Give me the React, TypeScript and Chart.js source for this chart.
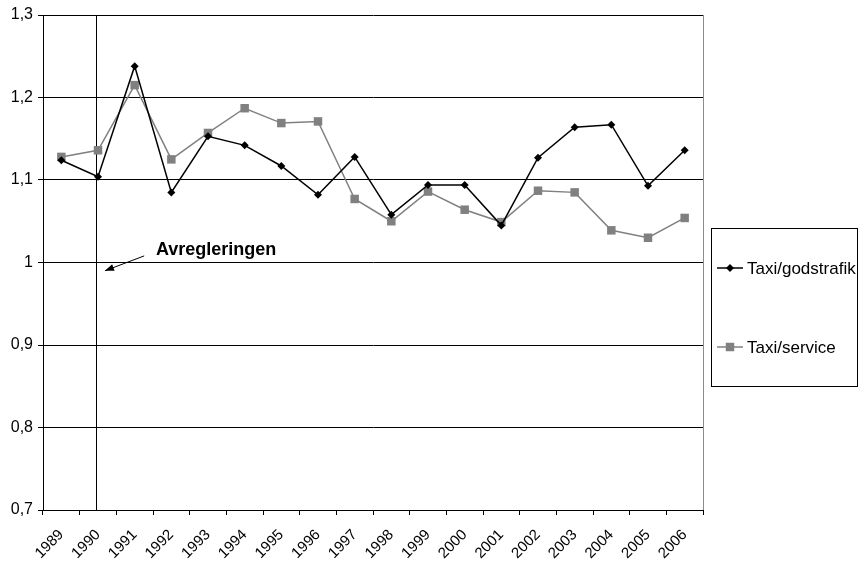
import React, { useEffect, useRef } from 'react';
import { Chart, registerables } from 'chart.js';

Chart.register(...registerables);

const years = ['1989', '1990', '1991', '1992', '1993', '1994', '1995', '1996', '1997', '1998', '1999', '2000', '2001', '2002', '2003', '2004', '2005', '2006'];
const godstrafik = [1.124, 1.104, 1.238, 1.085, 1.153, 1.142, 1.117, 1.082, 1.128, 1.058, 1.094, 1.094, 1.045, 1.127, 1.164, 1.167, 1.093, 1.136];
const service = [1.128, 1.136, 1.215, 1.125, 1.157, 1.187, 1.169, 1.171, 1.077, 1.05, 1.086, 1.064, 1.049, 1.087, 1.085, 1.039, 1.03, 1.054];
const seriesNames = ['Taxi/godstrafik', 'Taxi/service'];
const yMin = 0.7;
const yMax = 1.3;
const yStep = 0.1;
const annotationText = 'Avregleringen';
const deregulationIndex = 0.955;
const arrowFrom = { x: 2.26, y: 1.008 };
const arrowTo = { x: 1.19, y: 0.99 };
const textAt = { x: 2.58, y: 1.009 };

const FONT = "'Liberation Sans', Arial, sans-serif";
const BLACK = '#000000';
const GRAY = '#808080';

const overlayPlugin = {
  id: 'overlay',
  beforeDatasetsDraw(chart: any) {
    const { ctx, chartArea, scales } = chart;
    const x = scales.x.getPixelForValue(deregulationIndex);
    ctx.save();
    ctx.strokeStyle = '#000';
    ctx.lineWidth = 1;
    ctx.beginPath();
    ctx.moveTo(Math.round(x) + 0.5, chartArea.top);
    ctx.lineTo(Math.round(x) + 0.5, chartArea.bottom);
    ctx.stroke();
    ctx.strokeStyle = '#8c8c8c';
    ctx.beginPath();
    ctx.moveTo(Math.round(chartArea.right) + 0.5, chartArea.top);
    ctx.lineTo(Math.round(chartArea.right) + 0.5, chartArea.bottom);
    ctx.stroke();
    ctx.restore();
  },
  afterDraw(chart: any) {
    const { ctx, chartArea, scales } = chart;
    const xs = scales.x;
    const ys = scales.y;
    ctx.save();
    // arrow
    const x1 = xs.getPixelForValue(arrowFrom.x);
    const y1 = ys.getPixelForValue(arrowFrom.y);
    const x2 = xs.getPixelForValue(arrowTo.x);
    const y2 = ys.getPixelForValue(arrowTo.y);
    ctx.strokeStyle = '#000';
    ctx.fillStyle = '#000';
    ctx.lineWidth = 1;
    ctx.beginPath();
    ctx.moveTo(x1, y1);
    ctx.lineTo(x2, y2);
    ctx.stroke();
    const ang = Math.atan2(y2 - y1, x2 - x1);
    const L = 9;
    const W = 3.5;
    ctx.beginPath();
    ctx.moveTo(x2, y2);
    ctx.lineTo(x2 - L * Math.cos(ang) + W * Math.sin(ang), y2 - L * Math.sin(ang) - W * Math.cos(ang));
    ctx.lineTo(x2 - L * Math.cos(ang) - W * Math.sin(ang), y2 - L * Math.sin(ang) + W * Math.cos(ang));
    ctx.closePath();
    ctx.fill();
    // annotation text
    ctx.font = `bold 18px ${FONT}`;
    ctx.textAlign = 'left';
    ctx.textBaseline = 'alphabetic';
    ctx.fillText(annotationText, xs.getPixelForValue(textAt.x), ys.getPixelForValue(textAt.y));

    // legend
    const bx = chartArea.right + 8;
    const by = 228;
    const bw = chart.width - bx - 1;
    const bh = 158;
    ctx.strokeStyle = '#000';
    ctx.lineWidth = 1;
    ctx.strokeRect(Math.round(bx) + 0.5, by + 0.5, Math.round(bw), bh);
    const rows = [by + 40, by + 119];
    chart.data.datasets.forEach((ds: any, i: number) => {
      const cy = rows[i];
      const lx = bx + 6;
      ctx.strokeStyle = ds.borderColor;
      ctx.lineWidth = 1.5;
      ctx.beginPath();
      ctx.moveTo(lx, cy);
      ctx.lineTo(lx + 26, cy);
      ctx.stroke();
      ctx.fillStyle = ds.pointBackgroundColor;
      ctx.beginPath();
      if (ds.pointStyle === 'rectRot') {
        const r = ds.pointRadius;
        ctx.moveTo(lx + 13, cy - r);
        ctx.lineTo(lx + 13 + r, cy);
        ctx.lineTo(lx + 13, cy + r);
        ctx.lineTo(lx + 13 - r, cy);
        ctx.closePath();
      } else {
        const s = ds.pointRadius * Math.SQRT1_2;
        ctx.rect(lx + 13 - s, cy - s, 2 * s, 2 * s);
      }
      ctx.fill();
      ctx.fillStyle = '#000';
      ctx.font = `17px ${FONT}`;
      ctx.textBaseline = 'middle';
      ctx.fillText(ds.label, lx + 30, cy + 1);
    });
    ctx.restore();
  },
};

export default function App() {
  const ref = useRef<HTMLCanvasElement | null>(null);
  useEffect(() => {
    if (!ref.current) return;
    const chart = new Chart(ref.current, {
      type: 'line',
      data: {
        labels: years,
        datasets: [
          {
            label: seriesNames[0],
            data: godstrafik,
            borderColor: BLACK,
            backgroundColor: BLACK,
            pointBackgroundColor: BLACK,
            pointBorderColor: BLACK,
            pointStyle: 'rectRot',
            pointRadius: 4,
            pointBorderWidth: 0,
            borderWidth: 1.5,
            tension: 0,
          },
          {
            label: seriesNames[1],
            data: service,
            borderColor: GRAY,
            backgroundColor: GRAY,
            pointBackgroundColor: GRAY,
            pointBorderColor: GRAY,
            pointStyle: 'rect',
            pointRadius: 6,
            pointBorderWidth: 0,
            borderWidth: 1.5,
            tension: 0,
          },
        ],
      },
      options: {
        responsive: false,
        animation: false,
        devicePixelRatio: 1,
        layout: { padding: { left: 0, right: 155, top: 15, bottom: 0 } },
        plugins: {
          legend: { display: false },
          tooltip: { enabled: false },
        },
        scales: {
          x: {
            type: 'category',
            offset: true,
            grid: {
              offset: true,
              drawOnChartArea: false,
              drawTicks: true,
              tickLength: 5,
              color: '#000',
            },
            border: { display: true, color: '#000', width: 1 },
            ticks: {
              autoSkip: false,
              minRotation: 45,
              maxRotation: 45,
              padding: 11,
              color: '#000',
              font: { family: FONT, size: 15 },
            },
            afterFit: (s: any) => {
              s.height = 51;
            },
          },
          y: {
            min: yMin,
            max: yMax,
            grid: {
              color: '#000',
              lineWidth: 1,
              drawTicks: true,
              tickLength: 5,
            },
            border: { display: true, color: '#000', width: 1 },
            ticks: {
              stepSize: yStep,
              padding: 5,
              color: '#000',
              font: { family: FONT, size: 16 },
              callback: (v: any) => String(Number(Number(v).toFixed(1))).replace('.', ','),
            },
            afterFit: (s: any) => {
              s.width = 43;
            },
          },
        },
      },
      plugins: [overlayPlugin],
    });
    return () => chart.destroy();
  }, []);
  return (
    <div style={{ position: 'absolute', left: 0, top: 0, width: 858, height: 561, background: '#fff' }}>
      <canvas ref={ref} width={858} height={561} style={{ width: 858, height: 561 }} />
    </div>
  );
}
